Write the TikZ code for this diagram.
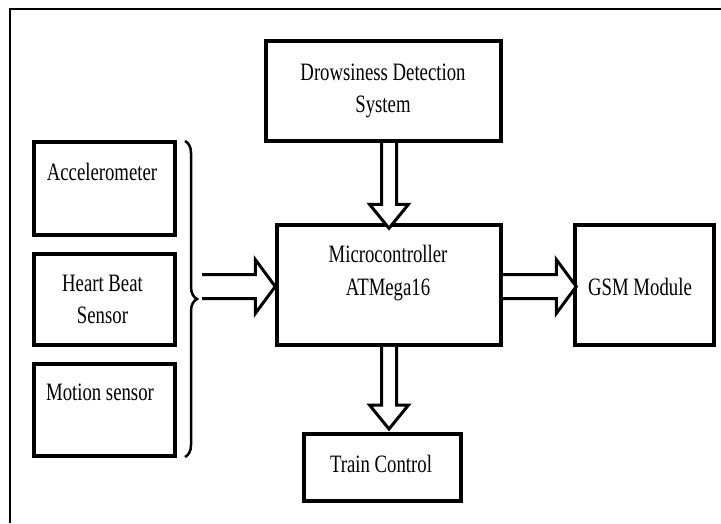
\documentclass[tikz,border=0pt]{standalone}
\usepackage{fontspec}
\setmainfont{Liberation Serif}[FakeStretch=0.75]
\usetikzlibrary{calc,decorations.pathreplacing}
\tikzset{
  blk/.style={draw=black,line width=4pt,inner sep=0pt},
  blkthin/.style={draw=black,line width=3.5pt,inner sep=0pt},
  lbl/.style={anchor=base,inner sep=0pt,font=\fontsize{25}{32}\selectfont},
  hollow/.style={draw=black,line width=3pt,fill=white,line join=miter},
  frame/.style={draw=black,line width=2.5pt}
}
% vertical hollow arrow: start, tip
\newcommand\vblockarrow[2]{%
  \draw[hollow] ($(#1)+(-7.5,0)$) -- ($(#2)+(-7.5,-24)$) -- ($(#2)+(-19.5,-24)$) -- (#2)
     -- ($(#2)+(19.5,-24)$) -- ($(#2)+(7.5,-24)$) -- ($(#1)+(7.5,0)$);}
% horizontal hollow arrow: start, tip
\newcommand\hblockarrow[2]{%
  \draw[hollow] ($(#1)+(0,-12)$) -- ($(#2)+(-20,-12)$) -- ($(#2)+(-20,-27)$) -- (#2)
     -- ($(#2)+(-20,27)$) -- ($(#2)+(-20,12)$) -- ($(#1)+(0,12)$);}
\begin{document}
\begin{tikzpicture}[x=1pt,y=-1pt]
\useasboundingbox (0,0) rectangle (721,523);
% frame
\draw[frame] (10,523) -- (10,9) -- (721,9);

% boxes
\node[blk,minimum width=235pt,minimum height=100pt] (ds) at (383.5,91) {};
\node[blk,minimum width=141pt,minimum height=93pt] (acc) at (104.5,188.5) {};
\node[blk,minimum width=141pt,minimum height=91pt] (hb) at (104.5,299.5) {};
\node[blk,minimum width=141pt,minimum height=92pt] (ms) at (104.5,410) {};
\node[blkthin,minimum width=224pt,minimum height=120pt] (mc) at (389,285) {};
\node[blkthin,minimum width=139pt,minimum height=120pt] (gsm) at (644.5,285) {};
\node[blk,minimum width=157pt,minimum height=67pt] (tc) at (382.5,467.5) {};

% texts
\node[lbl] (ds1) at (383,80) {Drowsiness Detection};
\node[lbl] (ds2) at (383,112) {System};
\node[lbl] (acct) at (102,180) {Accelerometer};
\node[lbl] (hb1) at (102.5,291) {Heart Beat};
\node[lbl] (hb2) at (102.5,323) {Sensor};
\node[lbl] (mst) at (100,400) {Motion sensor};
\node[lbl] (mc1) at (388,262) {Microcontroller};
\node[lbl] (mc2) at (388,295) {ATMega16};
\node[lbl] (gsmt) at (640,295) {GSM Module};
\node[lbl] (tct) at (381,472) {Train Control};

% brace
\draw[line width=2.5pt,decorate,decoration={brace,amplitude=12pt,aspect=0.5}]
  (185,141) -- (185,457);
\coordinate (br) at (202,286.5);

% arrows
\coordinate (a1s) at (ds.south -| mc.north);
\coordinate (a1t) at ($(mc.north)+(0,5)$);
\vblockarrow{a1s}{a1t}
\coordinate (a2t) at ($(tc.north -| mc.south)+(0,-3)$);
\vblockarrow{mc.south}{a2t}
\coordinate (a3t) at (mc.west |- br);
\hblockarrow{br}{a3t}
\coordinate (a4s) at (mc.east |- br);
\coordinate (a4t) at ($(gsm.west |- br)+(3,0)$);
\hblockarrow{a4s}{a4t}
\end{tikzpicture}
\end{document}
